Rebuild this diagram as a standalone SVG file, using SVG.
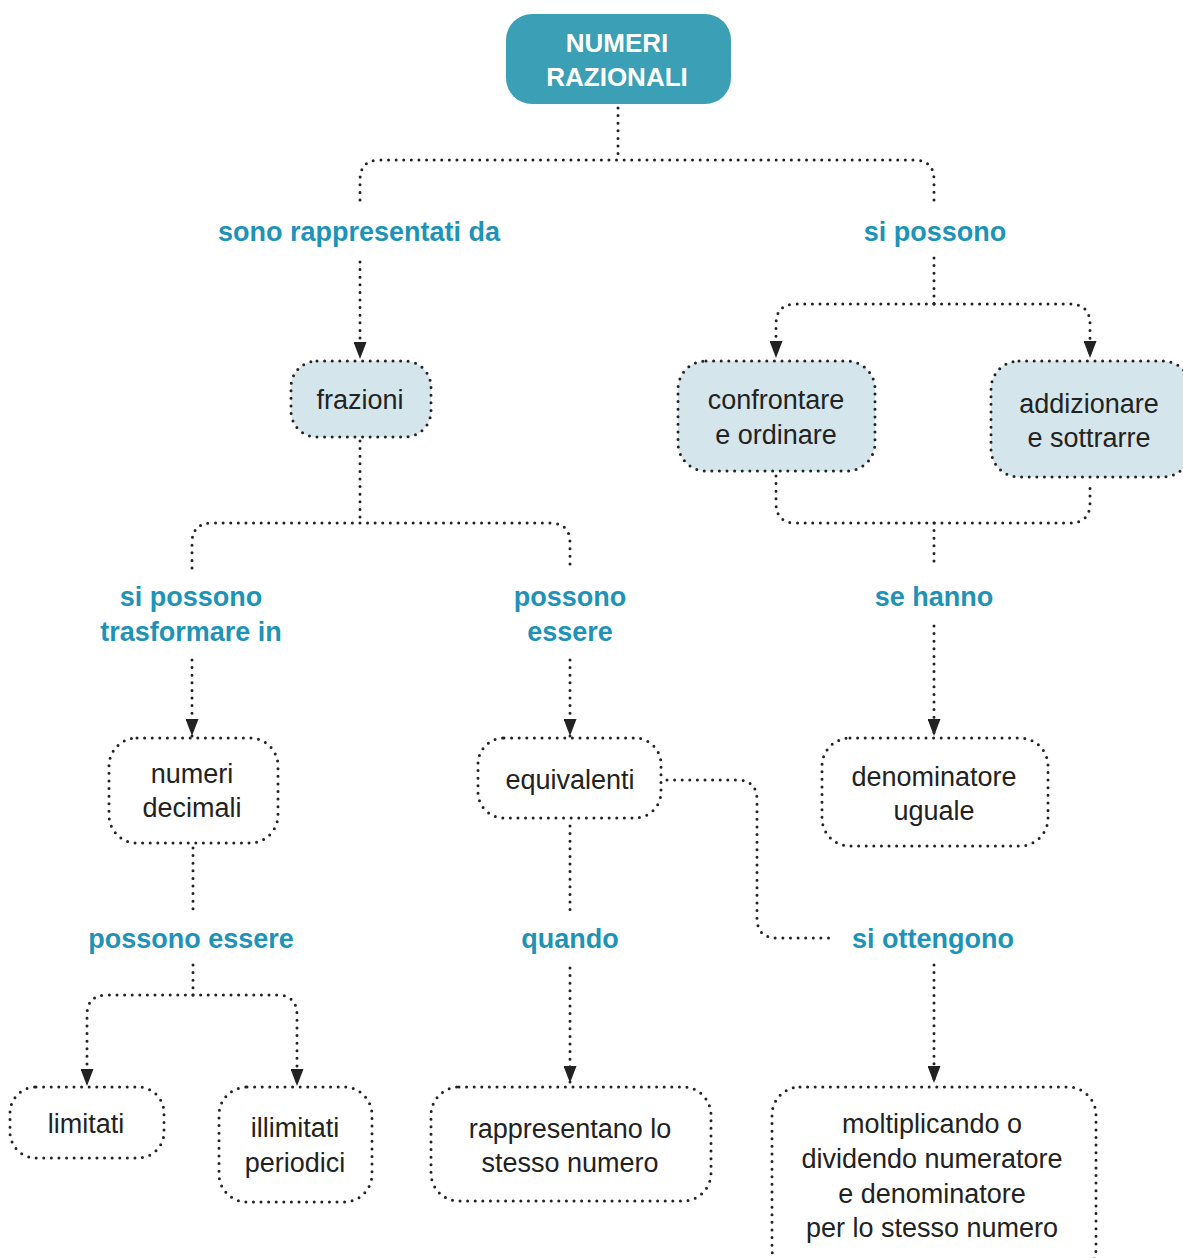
<svg xmlns="http://www.w3.org/2000/svg" width="1183" height="1258" viewBox="0 0 1183 1258">
<style>
.dot{fill:none;stroke:#222;stroke-width:3;stroke-linecap:round;stroke-dasharray:0 7.6}
.box{fill:#fff}
.lbox{fill:#d5e5ec}
.t{font-family:"Liberation Sans",Arial,sans-serif;font-size:27px;fill:#222;text-anchor:middle}
.l{font-family:"Liberation Sans",Arial,sans-serif;font-size:27px;font-weight:bold;fill:#1d93b8;text-anchor:middle}
.r{font-family:"Liberation Sans",Arial,sans-serif;font-size:26px;font-weight:bold;fill:#fff;text-anchor:middle}
</style>
<defs>
<marker id="ah" markerUnits="userSpaceOnUse" viewBox="0 0 17 13" markerWidth="17" markerHeight="13" refX="17" refY="6.5" orient="auto">
<path d="M0,0 L17,6.5 L0,13 z" fill="#222"/>
</marker>
</defs>
<rect width="1183" height="1258" fill="#fff"/>
<g id="connectors">
<path class="dot" d="M618,108 V158"/>
<path class="dot" d="M360,200 V180 Q360,160 380,160 H914 Q934,160 934,180 V200"/>
<path class="dot" d="M360,262 V359" marker-end="url(#ah)"/>
<path class="dot" d="M934,258 V304"/>
<path class="dot" d="M934,304 H796 Q776,304 776,324 V358" marker-end="url(#ah)"/>
<path class="dot" d="M934,304 H1070 Q1090,304 1090,324 V358" marker-end="url(#ah)"/>
<path class="dot" d="M776,476 V503 Q776,523 796,523 H1070 Q1090,523 1090,503 V481"/>
<path class="dot" d="M934,523 V565"/>
<path class="dot" d="M934,626 V736" marker-end="url(#ah)"/>
<path class="dot" d="M360,441 V523"/>
<path class="dot" d="M192,568 V543 Q192,523 212,523 H550 Q570,523 570,543 V568"/>
<path class="dot" d="M192,660 V736" marker-end="url(#ah)"/>
<path class="dot" d="M570,660 V736" marker-end="url(#ah)"/>
<path class="dot" d="M193,848 V910"/>
<path class="dot" d="M193,965 V995"/>
<path class="dot" d="M193,995 H107 Q87,995 87,1015 V1086" marker-end="url(#ah)"/>
<path class="dot" d="M193,995 H277 Q297,995 297,1015 V1086" marker-end="url(#ah)"/>
<path class="dot" d="M570,826 V910"/>
<path class="dot" d="M570,968 V1083" marker-end="url(#ah)"/>
<path class="dot" d="M667,780 H737 Q757,780 757,800 V918 Q757,938 777,938 H836"/>
<path class="dot" d="M934,965 V1083" marker-end="url(#ah)"/>
</g>
<g id="root">
<rect x="506" y="14" width="225" height="90" rx="26" fill="#3b9fb5"/>
<text class="r" x="617" y="52">NUMERI</text>
<text class="r" x="617" y="86">RAZIONALI</text>
</g>
<g id="lbl-rappresentati"><text class="l" x="359" y="241">sono rappresentati da</text></g>
<g id="lbl-sipossono"><text class="l" x="935" y="241">si possono</text></g>
<g id="frazioni">
<rect class="lbox" x="291" y="361" width="140" height="76" rx="26"/>
<rect class="dot" x="291" y="361" width="140" height="76" rx="26"/>
<text class="t" x="360" y="409">frazioni</text>
</g>
<g id="confrontare">
<rect class="lbox" x="678" y="361" width="197" height="110" rx="28"/>
<rect class="dot" x="678" y="361" width="197" height="110" rx="28"/>
<text class="t" x="776" y="409">confrontare</text>
<text class="t" x="776" y="444">e ordinare</text>
</g>
<g id="addizionare">
<rect class="lbox" x="991" y="361" width="200" height="116" rx="28"/>
<rect class="dot" x="991" y="361" width="200" height="116" rx="28"/>
<text class="t" x="1089" y="413">addizionare</text>
<text class="t" x="1089" y="447">e sottrarre</text>
</g>
<g id="lbl-sehanno"><text class="l" x="934" y="606">se hanno</text></g>
<g id="lbl-trasformare"><text class="l" x="191" y="606">si possono</text><text class="l" x="191" y="641">trasformare in</text></g>
<g id="lbl-possonoessere"><text class="l" x="570" y="606">possono</text><text class="l" x="570" y="641">essere</text></g>
<g id="denominatore">
<rect class="dot" x="822" y="738" width="226" height="108" rx="28"/>
<text class="t" x="934" y="786">denominatore</text>
<text class="t" x="934" y="820">uguale</text>
</g>
<g id="decimali">
<rect class="dot" x="109" y="738" width="169" height="105" rx="28"/>
<text class="t" x="192" y="783">numeri</text>
<text class="t" x="192" y="817">decimali</text>
</g>
<g id="equivalenti">
<rect class="dot" x="478" y="738" width="183" height="80" rx="26"/>
<text class="t" x="570" y="789">equivalenti</text>
</g>
<g id="lbl-possono2"><text class="l" x="191" y="948">possono essere</text></g>
<g id="lbl-quando"><text class="l" x="570" y="948">quando</text></g>
<g id="lbl-ottengono"><text class="l" x="933" y="948">si ottengono</text></g>
<g id="limitati">
<rect class="dot" x="10" y="1087" width="154" height="71" rx="26"/>
<text class="t" x="86" y="1133">limitati</text>
</g>
<g id="illimitati">
<rect class="dot" x="219" y="1087" width="153" height="115" rx="28"/>
<text class="t" x="295" y="1137">illimitati</text>
<text class="t" x="295" y="1172">periodici</text>
</g>
<g id="stesso">
<rect class="dot" x="431" y="1087" width="280" height="114" rx="28"/>
<text class="t" x="570" y="1138">rappresentano lo</text>
<text class="t" x="570" y="1172">stesso numero</text>
</g>
<g id="moltiplicando">
<rect class="dot" x="772" y="1087" width="324" height="190" rx="28"/>
<text class="t" x="932" y="1133">moltiplicando o</text>
<text class="t" x="932" y="1168">dividendo numeratore</text>
<text class="t" x="932" y="1203">e denominatore</text>
<text class="t" x="932" y="1237">per lo stesso numero</text>
</g>
</svg>
